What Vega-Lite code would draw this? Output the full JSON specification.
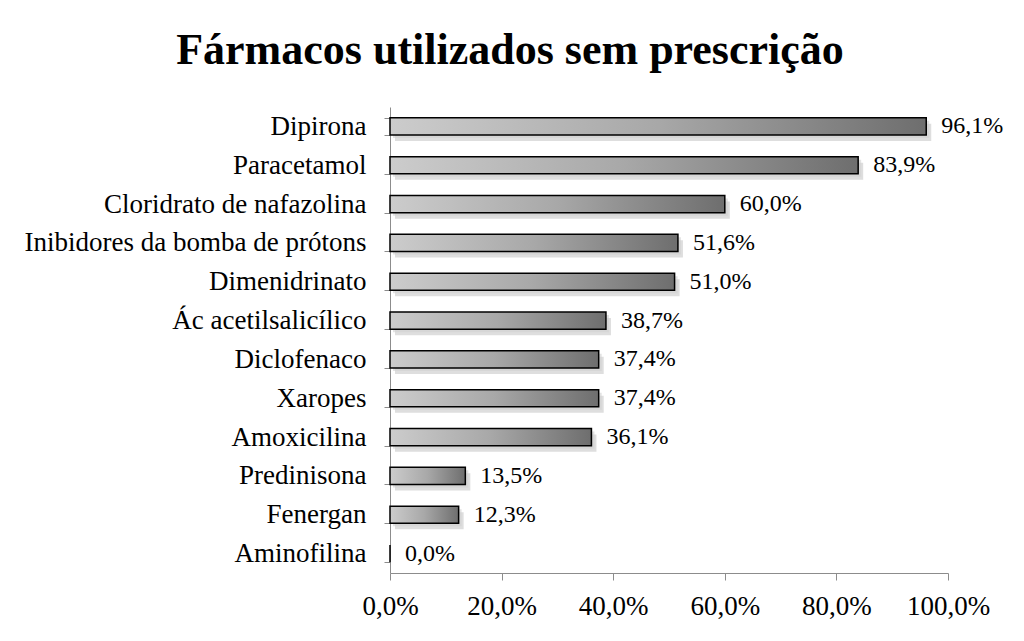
{
  "$schema": "https://vega.github.io/schema/vega-lite/v6.json",
  "autosize": {"type": "none"},
  "width": 558,
  "height": 466,
  "padding": {"left": 390, "top": 107, "right": 76, "bottom": 68},
  "background": "white",
  "title": {
    "text": "Fármacos utilizados sem prescrição",
    "font": "Liberation Serif",
    "fontSize": 44,
    "fontWeight": "bold",
    "color": "black",
    "anchor": "middle",
    "dx": -159,
    "offset": 20
  },
  "config": {
    "locale": {"number": {"decimal": ",", "thousands": ".", "grouping": [3], "currency": ["", ""]}},
    "view": {"stroke": null},
    "axis": {"labelFont": "Liberation Serif", "labelColor": "black", "grid": false, "domainColor": "#8c8c8c", "tickColor": "#8c8c8c", "labelLimit": 500}
  },
  "data": {
    "values": [
      {"farmaco": "Dipirona", "valor": 0.961},
      {"farmaco": "Paracetamol", "valor": 0.839},
      {"farmaco": "Cloridrato de nafazolina", "valor": 0.600},
      {"farmaco": "Inibidores da bomba de prótons", "valor": 0.516},
      {"farmaco": "Dimenidrinato", "valor": 0.510},
      {"farmaco": "Ác acetilsalicílico", "valor": 0.387},
      {"farmaco": "Diclofenaco", "valor": 0.374},
      {"farmaco": "Xaropes", "valor": 0.374},
      {"farmaco": "Amoxicilina", "valor": 0.361},
      {"farmaco": "Predinisona", "valor": 0.135},
      {"farmaco": "Fenergan", "valor": 0.123},
      {"farmaco": "Aminofilina", "valor": 0.0}
    ]
  },
  "encoding": {
    "y": {
      "field": "farmaco",
      "type": "nominal",
      "sort": null,
      "title": null,
      "scale": {"paddingInner": 0.56, "paddingOuter": 0.28},
      "axis": {"labelFontSize": 27, "tickBand": "extent", "tickSize": 6, "labelPadding": 18}
    },
    "x": {
      "field": "valor",
      "type": "quantitative",
      "title": null,
      "scale": {"domain": [0, 1], "nice": false},
      "axis": {"format": ".1%", "values": [0, 0.2, 0.4, 0.6, 0.8, 1.0], "labelFontSize": 27, "tickSize": 7, "labelPadding": 13, "labelOverlap": false, "labelFlush": false, "labelBound": false}
    }
  },
  "layer": [
    {
      "mark": {"type": "bar", "color": "#bdbdbd", "opacity": 0.5, "xOffset": 5, "yOffset": 6, "x2Offset": 5}
    },
    {
      "mark": {"type": "bar", "xOffset": 3, "yOffset": 3, "x2Offset": 3, "color": "#d0d0d0", "opacity": 0.6}
    },
    {
      "mark": {
        "type": "bar",
        "stroke": "black",
        "strokeWidth": 1.5,
        "color": {
          "gradient": "linear",
          "x1": 0, "x2": 1, "y1": 0, "y2": 0,
          "stops": [
            {"offset": 0, "color": "#cccccc"},
            {"offset": 0.5, "color": "#a8a8a8"},
            {"offset": 1, "color": "#6e6e6e"}
          ]
        }
      }
    },
    {
      "mark": {"type": "text", "align": "left", "baseline": "middle", "dx": 15, "font": "Liberation Serif", "fontSize": 24, "color": "black"},
      "encoding": {"text": {"field": "valor", "type": "quantitative", "format": ".1%"}}
    }
  ]
}
